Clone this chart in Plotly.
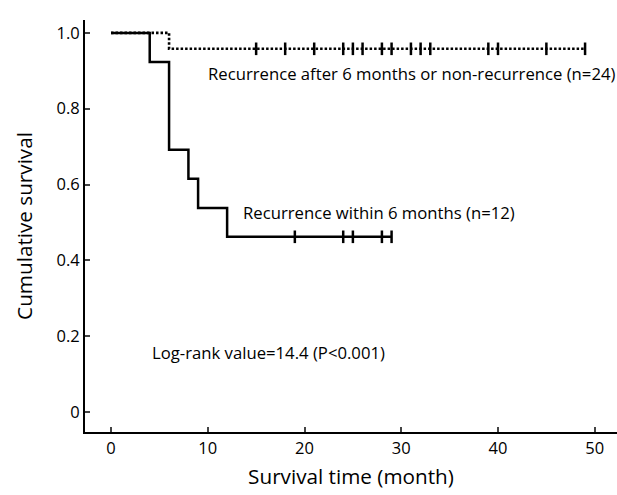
import plotly.graph_objects as go

# Group 1: recurrence within 6 months
g1_event_times = [0, 4, 6, 8, 9, 12]
g1_survival = [1.0, 0.923, 0.692, 0.615, 0.538, 0.462]
g1_censor_times = [19, 24, 25, 28, 29]

# Group 2: recurrence after 6 months or non-recurrence
g2_event_times = [0, 6]
g2_survival = [1.0, 0.958]
g2_censor_times = [15, 18, 21, 24, 25, 26, 28, 29, 31, 32, 33, 39, 40, 45, 49]

x_ticks = [0, 10, 20, 30, 40, 50]
y_ticks = [0, 0.2, 0.4, 0.6, 0.8, 1.0]
y_tick_labels = ["0", "0.2", "0.4", "0.6", "0.8", "1.0"]

FONT = "Open Sans"


def step_path(times, surv, end_time):
    xs, ys = [], []
    for i, (t, s) in enumerate(zip(times, surv)):
        if i > 0:
            xs.append(t)
            ys.append(surv[i - 1])
        xs.append(t)
        ys.append(s)
    xs.append(end_time)
    ys.append(surv[-1])
    return xs, ys


def surv_at(times, surv, t):
    val = surv[0]
    for tt, s in zip(times, surv):
        if tt <= t:
            val = s
    return val


fig = go.Figure()

x1, y1 = step_path(g1_event_times, g1_survival, max(g1_censor_times))
fig.add_trace(go.Scatter(x=x1, y=y1, mode="lines",
                         line=dict(color="black", width=2.5), showlegend=False))
fig.add_trace(go.Scatter(x=g1_censor_times,
                         y=[surv_at(g1_event_times, g1_survival, t) for t in g1_censor_times],
                         mode="markers",
                         marker=dict(symbol="line-ns-open", size=9, color="black",
                                     line=dict(color="black", width=2.5)),
                         showlegend=False))

x2, y2 = step_path(g2_event_times, g2_survival, max(g2_censor_times))
fig.add_trace(go.Scatter(x=x2, y=y2, mode="lines",
                         line=dict(color="black", width=2.6, dash="2.5px,2px"), showlegend=False))
fig.add_trace(go.Scatter(x=g2_censor_times,
                         y=[surv_at(g2_event_times, g2_survival, t) for t in g2_censor_times],
                         mode="markers",
                         marker=dict(symbol="line-ns-open", size=9, color="black",
                                     line=dict(color="black", width=2.5)),
                         showlegend=False))

ann_font = dict(family=FONT, size=16.7, color="black")
fig.add_annotation(x=9.8, y=0.892, text="Recurrence after 6 months or non-recurrence (n=24)",
                   showarrow=False, xanchor="left", yanchor="middle", font=ann_font)
fig.add_annotation(x=13.4, y=0.525, text="Recurrence within 6 months (n=12)",
                   showarrow=False, xanchor="left", yanchor="middle", font=ann_font)
fig.add_annotation(x=4.0, y=0.156, text="Log-rank value=14.4 (P<0.001)",
                   showarrow=False, xanchor="left", yanchor="middle", font=ann_font)

fig.update_layout(
    width=617, height=495,
    margin=dict(l=85, r=0, t=20, b=63),
    plot_bgcolor="white", paper_bgcolor="white",
    font=dict(family=FONT, size=16, color="black"),
    xaxis=dict(range=[-2.69, 52.3], tickvals=x_ticks, ticks="inside", ticklen=5, tickwidth=2,
               showline=True, linecolor="black", linewidth=2, showgrid=False, zeroline=False,
               tickfont=dict(family=FONT, size=16.5),
               title=dict(text="Survival time (month)", font=dict(family=FONT, size=20.7), standoff=12)),
    yaxis=dict(range=[-0.053, 1.034], tickvals=y_ticks, ticktext=y_tick_labels, ticks="inside",
               ticklen=5, tickwidth=2, showline=True, linecolor="black", linewidth=2,
               showgrid=False, zeroline=False, tickfont=dict(family=FONT, size=16.5),
               title=dict(text="Cumulative survival", font=dict(family=FONT, size=20.7), standoff=18)),
)

fig.write_html("out.html")
